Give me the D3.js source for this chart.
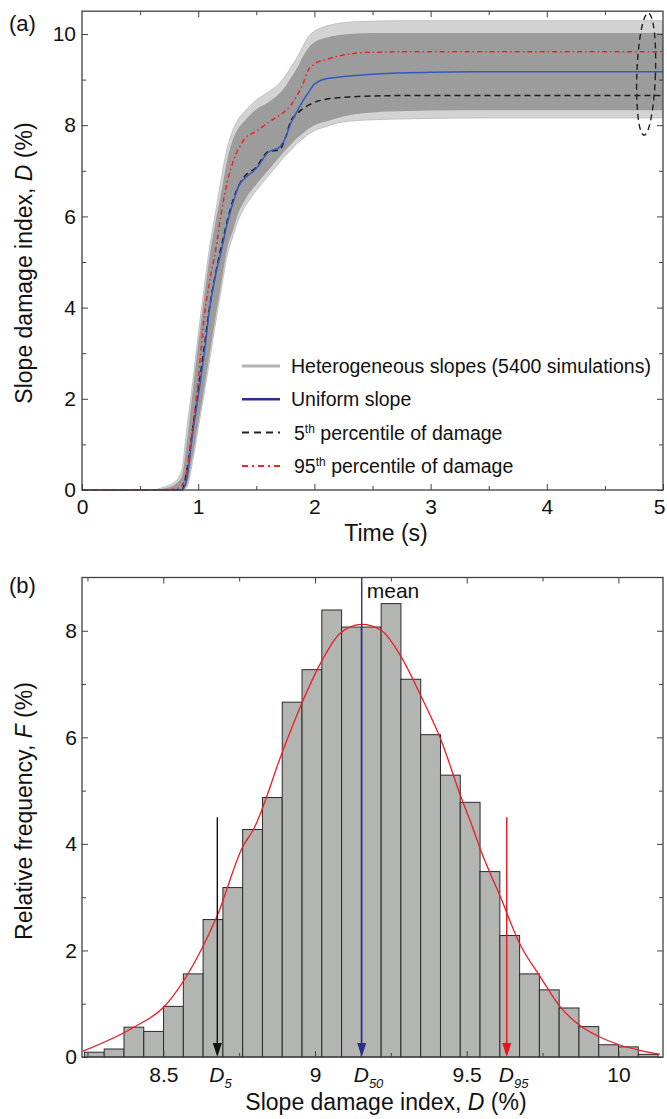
<!DOCTYPE html>
<html>
<head>
<meta charset="utf-8">
<script src="https://cdn.jsdelivr.net/npm/d3@7"></script>
<style>
  body { margin: 0; background: #fff; }
  svg { font-family: "Liberation Sans", Arial, Helvetica, sans-serif; }
</style>
</head>
<body>
<svg id="chart" width="667" height="1119"></svg>
<script>
// ---- panel (a): damage index time histories
const timeS = [0, 0.6, 0.7, 0.8, 0.86, 0.9, 0.95, 1.0, 1.05, 1.1, 1.15, 1.2, 1.25, 1.3, 1.35, 1.4, 1.5, 1.6, 1.7, 1.75, 1.8, 1.85, 1.9, 1.95, 2.0, 2.1, 2.2, 2.3, 2.5, 2.8, 3.0, 3.5, 4.0, 4.5, 5.0];
// envelope of the 5400 heterogeneous runs (outer = sparse outliers, dense = bulk)
const outerHi = [0, 0, 0.06, 0.18, 0.45, 1.3, 2.3, 3.4, 4.4, 5.35, 6.1, 6.85, 7.5, 7.9, 8.15, 8.3, 8.55, 8.72, 8.92, 9.08, 9.28, 9.48, 9.72, 9.95, 10.06, 10.17, 10.23, 10.26, 10.28, 10.29, 10.29, 10.29, 10.29, 10.29, 10.29];
const denseHi = [0, 0, 0.03, 0.12, 0.3, 1.0, 2.1, 3.2, 4.2, 5.15, 5.9, 6.55, 7.25, 7.7, 7.95, 8.1, 8.35, 8.5, 8.7, 8.85, 9.05, 9.25, 9.5, 9.7, 9.82, 9.92, 9.97, 10.0, 10.02, 10.02, 10.02, 10.02, 10.02, 10.02, 10.02];
const denseLo = [0, 0, 0, 0, 0, 0.1, 0.7, 1.45, 2.2, 3.0, 3.8, 4.55, 5.3, 5.7, 6.1, 6.35, 6.7, 7.0, 7.3, 7.45, 7.58, 7.72, 7.82, 7.92, 8.0, 8.08, 8.16, 8.22, 8.28, 8.31, 8.32, 8.33, 8.33, 8.33, 8.33];
const outerLo = [0, 0, 0, 0, 0, 0.05, 0.6, 1.35, 2.1, 2.87, 3.68, 4.43, 5.15, 5.58, 5.95, 6.2, 6.57, 6.88, 7.18, 7.33, 7.46, 7.6, 7.7, 7.8, 7.88, 7.97, 8.05, 8.09, 8.12, 8.14, 8.15, 8.16, 8.16, 8.16, 8.16];
const uniformD = [0, 0, 0, 0, 0, 0.22, 1.2, 2.05, 2.95, 4.0, 4.72, 5.26, 5.85, 6.3, 6.68, 6.83, 7.05, 7.4, 7.52, 7.72, 8.06, 8.3, 8.53, 8.72, 8.9, 9.02, 9.05, 9.08, 9.12, 9.15, 9.16, 9.17, 9.17, 9.17, 9.17];
const p5D = [0, 0, 0, 0, 0, 0.4, 1.3, 2.2, 3.1, 4.05, 4.75, 5.35, 5.9, 6.36, 6.68, 6.88, 7.08, 7.42, 7.46, 7.72, 8.11, 8.25, 8.36, 8.44, 8.5, 8.57, 8.6, 8.62, 8.64, 8.65, 8.65, 8.65, 8.65, 8.65, 8.65];
const p95D = [0, 0, 0, 0.02, 0.1, 0.4, 1.3, 2.4, 3.75, 4.6, 5.26, 6.1, 6.75, 7.2, 7.5, 7.7, 7.87, 8.05, 8.22, 8.31, 8.45, 8.65, 8.9, 9.22, 9.34, 9.44, 9.51, 9.56, 9.6, 9.61, 9.61, 9.61, 9.61, 9.61, 9.61];
const legendNames = ["Heterogeneous slopes (5400 simulations)", "Uniform slope", "5|th| percentile of damage", "95|th| percentile of damage"];
const xTicksA = [0, 1, 2, 3, 4, 5];
const yTicksA = [0, 2, 4, 6, 8, 10];
// dashed ellipse marking the final scatter (centre t, D and half extents)
const ellipseA = {t: 4.855, d: 9.12, rt: 0.08, rd: 1.34};

// ---- panel (b): histogram of final damage index
const binStart = 8.24;
const binWidth = 0.0652;
const freqF = [0.09, 0.15, 0.56, 0.48, 0.95, 1.56, 2.58, 3.18, 4.27, 4.87, 6.66, 7.27, 8.39, 8.07, 8.07, 8.51, 7.09, 6.05, 5.29, 4.78, 3.48, 2.28, 1.56, 1.26, 0.92, 0.57, 0.23, 0.19, 0.05];
const fitD = [8.235, 8.40, 8.5, 8.631, 8.677, 8.763, 8.797, 8.894, 8.958, 9.023, 9.082, 9.154, 9.218, 9.284, 9.348, 9.414, 9.480, 9.522, 9.545, 9.610, 9.676, 9.742, 9.807, 9.871, 9.937, 10.002, 10.067, 10.137];
const fitF = [0.11, 0.55, 0.93, 2.08, 2.64, 3.96, 4.27, 5.75, 6.66, 7.44, 7.95, 8.12, 8.01, 7.51, 6.79, 5.97, 4.90, 4.27, 3.90, 3.02, 2.11, 1.51, 0.95, 0.60, 0.38, 0.23, 0.13, 0.05];
const markNames = ["5", "50", "95"];
const markD = [8.678, 9.154, 9.632];
const markTop = [4.5, 9, 4.5];
const xTicksB = [8.5, 9, 9.5, 10];
const yTicksB = [0, 2, 4, 6, 8];

const svg = d3.select("#chart");
const frameColor = "#404040";

// inward ticks on all four sides, labels only bottom/left
function drawAxes(g, x, y, o) {
  const [x0, x1] = x.range();
  const [yb, yt] = y.range();
  const side = (axis, tr, vals, len, labels, pad) => {
    const a = g.append("g").attr("transform", tr)
      .call(axis.tickValues(vals).tickSizeInner(-len).tickSizeOuter(0)
        .tickPadding(pad || 0).tickFormat(labels ? d3.format("") : ""));
    a.select(".domain").remove();
    a.selectAll("line").attr("stroke", frameColor);
    a.selectAll("text").attr("font-size", 21).attr("fill", "#111")
      .attr("font-family", null);
    return a;
  };
  side(d3.axisBottom(x), `translate(0,${yb})`, o.xMinor, 4);
  const bottom = side(d3.axisBottom(x), `translate(0,${yb})`, o.xMajor, 6, true, o.xPad);
  side(d3.axisTop(x), `translate(0,${yt})`, o.xMinor, 4);
  side(d3.axisTop(x), `translate(0,${yt})`, o.xMajorTop, 6);
  side(d3.axisLeft(y), `translate(${x0},0)`, o.yMinor, 4);
  side(d3.axisLeft(y), `translate(${x0},0)`, o.yMajor, 6, true, o.yPad);
  side(d3.axisRight(y), `translate(${x1},0)`, o.yMinor, 4);
  side(d3.axisRight(y), `translate(${x1},0)`, o.yMajor, 6);
  g.append("rect")
    .attr("x", x0).attr("y", yt)
    .attr("width", x1 - x0).attr("height", yb - yt)
    .attr("fill", "none").attr("stroke", frameColor).attr("stroke-width", 1.3);
  return bottom;
}

// ================= panel (a)
const xA = d3.scaleLinear().domain([0, 5]).range([82, 663]);
const yA = d3.scaleLinear().domain([0, 10.5]).range([490, 11.2]);
const gA = svg.append("g");

const rowsA = timeS.map((t, i) => ({t, oh: outerHi[i], dh: denseHi[i], dl: denseLo[i], ol: outerLo[i]}));
const band = (lo, hi) => d3.area()
  .x(d => xA(d.t)).y0(d => yA(d[lo])).y1(d => yA(d[hi]))
  .curve(d3.curveMonotoneX);
const lineA = vals => d3.line()
  .x((d, i) => xA(timeS[i])).y(d => yA(d))
  .curve(d3.curveMonotoneX)(vals);

gA.append("path").datum(rowsA).attr("d", band("ol", "oh")).attr("fill", "#d3d3d3");
gA.append("path").datum(rowsA).attr("d", band("dl", "dh")).attr("fill", "#9c9c9c");
[outerHi, outerLo].forEach(v => {
  gA.append("path").attr("d", lineA(v)).attr("fill", "none")
    .attr("stroke", "#c0c0c0").attr("stroke-width", 1);
});

gA.append("path").attr("d", lineA(p5D)).attr("fill", "none")
  .attr("stroke", "#1e1e1e").attr("stroke-width", 1.5).attr("stroke-dasharray", "6,4");
gA.append("path").attr("d", lineA(uniformD)).attr("fill", "none")
  .attr("stroke", "#3558c0").attr("stroke-width", 1.5);
gA.append("path").attr("d", lineA(p95D)).attr("fill", "none")
  .attr("stroke", "#e8262a").attr("stroke-width", 1.5).attr("stroke-dasharray", "5,3,1.5,3");

gA.append("ellipse")
  .attr("cx", xA(ellipseA.t)).attr("cy", yA(ellipseA.d))
  .attr("rx", xA(ellipseA.rt) - xA(0)).attr("ry", yA(0) - yA(ellipseA.rd))
  .attr("transform", `rotate(2,${xA(ellipseA.t)},${yA(ellipseA.d)})`)
  .attr("fill", "none").attr("stroke", "#222").attr("stroke-width", 1.4)
  .attr("stroke-dasharray", "6,4");

const bottomA = drawAxes(gA, xA, yA, {
  xMinor: d3.range(0.5, 5, 1), xMajor: xTicksA, xMajorTop: [1, 2, 3, 4], xPad: 9,
  yMinor: d3.range(1, 10.5, 2), yMajor: yTicksA, yPad: 6
});
// last label sits on the page edge
bottomA.selectAll("text").filter(d => d === 5).attr("dx", -4);

// legend
const legendStyles = [
  {stroke: "#b4b4b4", width: 3, dash: null},
  {stroke: "#2b2e8f", width: 2.5, dash: null},
  {stroke: "#222", width: 2, dash: "7,5"},
  {stroke: "#e8262a", width: 2, dash: "6,4,2,4"}
];
const legend = gA.append("g").attr("transform", "translate(242,366)");
legendNames.forEach((name, i) => {
  const row = legend.append("g").attr("transform", `translate(0,${i * 33.3})`);
  const st = legendStyles[i];
  row.append("line").attr("x1", 0).attr("x2", 38)
    .attr("stroke", st.stroke).attr("stroke-width", st.width)
    .attr("stroke-dasharray", st.dash);
  const parts = name.split("|");
  const txt = row.append("text").attr("x", parts.length > 1 ? 52 : 49).attr("y", 7)
    .attr("font-size", 19.5).attr("fill", "#111");
  txt.append("tspan").text(parts[0]);
  if (parts.length > 1) {
    txt.append("tspan").text(parts[1]).attr("font-size", 12).attr("dy", -7);
    txt.append("tspan").text(parts[2]).attr("dy", 7);
  }
});

svg.append("text").attr("x", 386).attr("y", 541).attr("text-anchor", "middle")
  .attr("font-size", 23).attr("fill", "#111").text("Time (s)");
const tA = svg.append("text")
  .attr("transform", "translate(32,263) rotate(-90)")
  .attr("text-anchor", "middle").attr("font-size", 23).attr("fill", "#111");
tA.append("tspan").text("Slope damage index, ");
tA.append("tspan").attr("font-style", "italic").text("D");
tA.append("tspan").text(" (%)");
svg.append("text").attr("x", 9).attr("y", 31).attr("font-size", 22).attr("fill", "#111").text("(a)");

// ================= panel (b)
const xB = d3.scaleLinear().domain([8.232, 10.147]).range([82, 663]);
const yB = d3.scaleLinear().domain([0, 9]).range([1057, 577.5]);
const gB = svg.append("g");

gB.selectAll("rect.bar")
  .data(freqF)
  .join("rect")
  .attr("class", "bar")
  .attr("x", (d, i) => xB(binStart + i * binWidth))
  .attr("width", (d, i) => xB(binStart + (i + 1) * binWidth) - xB(binStart + i * binWidth))
  .attr("y", d => yB(d))
  .attr("height", d => yB(0) - yB(d))
  .attr("fill", "#b3b5b2").attr("stroke", "#2a2a2a").attr("stroke-width", 1);

gB.append("path")
  .attr("d", d3.line().x((d, i) => xB(fitD[i])).y(d => yB(d)).curve(d3.curveMonotoneX)(fitF))
  .attr("fill", "none").attr("stroke", "#ee1c24").attr("stroke-width", 1.3);

const markColors = ["#111", "#2b2e8f", "#e8141b"];
markD.forEach((d, i) => {
  const x = xB(d), yb = yB(0);
  gB.append("line").attr("x1", x).attr("x2", x)
    .attr("y1", yB(markTop[i])).attr("y2", yb - 8)
    .attr("stroke", markColors[i]).attr("stroke-width", 1.4);
  gB.append("path")
    .attr("d", `M${x},${yb}L${x - 4.5},${yb - 14}L${x + 4.5},${yb - 14}Z`)
    .attr("fill", markColors[i]);
});

drawAxes(gB, xB, yB, {
  xMinor: [8.25, 8.75, 9.25, 9.75], xMajor: xTicksB, xMajorTop: xTicksB, xPad: 10,
  yMinor: d3.range(1, 9, 2), yMajor: yTicksB, yPad: 5
});

// D labels below the axis, at each arrow
markD.forEach((d, i) => {
  const t = gB.append("text").attr("x", xB(d) - 8).attr("y", 1082)
    .attr("font-size", 21).attr("font-style", "italic").attr("fill", "#111");
  t.append("tspan").text("D");
  t.append("tspan").text(markNames[i]).attr("font-size", 13).attr("dy", 6);
});

gB.append("text").attr("x", xB(markD[1]) + 5).attr("y", 598)
  .attr("font-size", 21).attr("fill", "#111").text("mean");

const xtB = svg.append("text").attr("x", 386).attr("y", 1110).attr("text-anchor", "middle")
  .attr("font-size", 23).attr("fill", "#111");
xtB.append("tspan").text("Slope damage index, ");
xtB.append("tspan").attr("font-style", "italic").text("D");
xtB.append("tspan").text(" (%)");
const ytB = svg.append("text")
  .attr("transform", "translate(32,811) rotate(-90)")
  .attr("text-anchor", "middle").attr("font-size", 23).attr("fill", "#111");
ytB.append("tspan").text("Relative frequency, ");
ytB.append("tspan").attr("font-style", "italic").text("F");
ytB.append("tspan").text(" (%)");
svg.append("text").attr("x", 9).attr("y", 593).attr("font-size", 22).attr("fill", "#111").text("(b)");
</script>
</body>
</html>
